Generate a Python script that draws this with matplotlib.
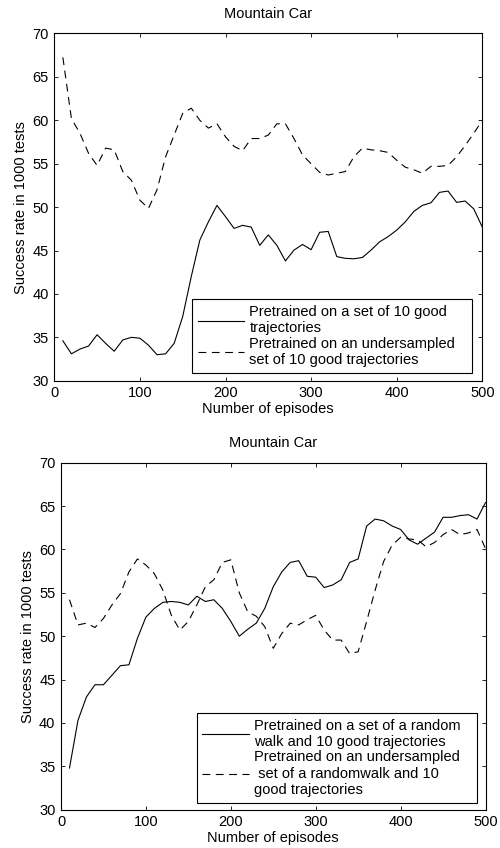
import numpy as np
import matplotlib
matplotlib.use('Agg')
import matplotlib.pyplot as plt

plt.rcParams['font.family'] = ['Liberation Sans', 'DejaVu Sans']
plt.rcParams['font.size'] = 10.5

episodes = np.arange(10, 501, 10)

# upper panel
top_full = [34.6, 33.1, 33.65, 34.0, 35.3, 34.3, 33.4, 34.7, 35.0, 34.9,
            34.1, 33.0, 33.1, 34.3, 37.4, 42.0, 46.2, 48.3, 50.2, 48.9,
            47.55, 47.9, 47.7, 45.6, 46.8, 45.6, 43.8, 45.05, 45.7, 45.1,
            47.1, 47.2, 44.3, 44.1, 44.05, 44.2, 45.05, 46.0, 46.6, 47.35,
            48.3, 49.5, 50.2, 50.5, 51.7, 51.85, 50.55, 50.7, 49.8, 47.7]
top_under = [67.25, 60.2, 58.5, 56.2, 54.8, 56.8, 56.6, 54.1, 53.1, 50.8,
             49.85, 52.0, 55.8, 58.3, 60.8, 61.4, 60.0, 59.1, 59.6, 58.1,
             57.0, 56.5, 57.9, 57.9, 58.3, 59.6, 59.6, 57.9, 56.0, 55.0,
             54.0, 53.7, 53.9, 54.1, 55.8, 56.8, 56.6, 56.5, 56.3, 55.4,
             54.6, 54.3, 53.9, 54.7, 54.7, 54.8, 55.8, 57.1, 58.5, 60.0]
top_labels = ['Pretrained on a set of 10 good\ntrajectories',
              'Pretrained on an undersampled\nset of 10 good trajectories']

# lower panel
bot_full = [34.8, 40.3, 43.0, 44.4, 44.4, 45.5, 46.6, 46.7, 49.75, 52.2,
            53.2, 53.9, 54.0, 53.9, 53.6, 54.6, 54.0, 54.2, 53.2, 51.7,
            50.0, 50.8, 51.5, 53.2, 55.7, 57.4, 58.5, 58.7, 56.9, 56.8,
            55.6, 55.9, 56.5, 58.5, 58.9, 62.7, 63.5, 63.3, 62.7, 62.3,
            61.1, 60.6, 61.3, 62.0, 63.7, 63.7, 63.9, 64.0, 63.5, 65.4]
bot_under = [54.2, 51.3, 51.5, 51.0, 52.05, 53.6, 54.9, 57.4, 58.9, 58.2,
             57.2, 55.3, 52.4, 50.7, 51.7, 53.6, 55.7, 56.5, 58.5, 58.8,
             55.0, 52.8, 52.3, 51.1, 48.6, 50.3, 51.5, 51.3, 51.9, 52.4,
             50.7, 49.55, 49.55, 48.0, 48.2, 51.7, 55.3, 58.6, 60.5, 61.4,
             61.2, 61.1, 60.3, 60.8, 61.7, 62.3, 61.7, 61.9, 62.3, 60.1]
bot_labels = ['Pretrained on a set of a random\nwalk and 10 good trajectories',
              'Pretrained on an undersampled\n set of a randomwalk and 10\ngood trajectories']

title = 'Mountain Car'
xlabel = 'Number of episodes'
ylabel = 'Success rate in 1000 tests'

fig = plt.figure(figsize=(5.0, 8.48), dpi=100)
ax1 = fig.add_axes([0.1086, 0.551, 0.856, 0.4095])
ax2 = fig.add_axes([0.122, 0.0452, 0.849, 0.4092])

# legend boxes in axes coords (x0, y0, width, height)
panels = [(ax1, top_full, top_under, top_labels, (0.321, 0.023, 0.6556, 0.224)),
          (ax2, bot_full, bot_under, bot_labels, (0.3195, 0.020, 0.6605, 0.272))]

for ax, full, under, labels, box in panels:
    ax.plot(episodes, full, color='black', lw=0.8, label=labels[0])
    ax.plot(episodes, under, color='black', lw=0.8, linestyle=(0, (7, 5)),
            label=labels[1])
    ax.set_xlim(0, 500)
    ax.set_ylim(30, 70)
    ax.set_xticks(np.arange(0, 501, 100))
    ax.set_yticks(np.arange(30, 71, 5))
    ax.tick_params(direction='in', top=True, right=True, length=3,
                   width=0.6, labelsize=10.5, pad=4)
    for s in ax.spines.values():
        s.set_linewidth(0.8)
    ax.set_title(title, fontsize=10.5, pad=11)
    ax.set_xlabel(xlabel, fontsize=10.5, labelpad=1)
    ax.set_ylabel(ylabel, fontsize=10.5, labelpad=3)
    leg = ax.legend(loc='lower left', bbox_to_anchor=box, mode='expand',
                    borderaxespad=0, fancybox=False, framealpha=1,
                    edgecolor='black', handlelength=3.2, handletextpad=0.35,
                    labelspacing=0.1, borderpad=0.4, fontsize=10.5)
    leg.get_frame().set_linewidth(0.8)

fig.savefig('out.png', dpi=100)
